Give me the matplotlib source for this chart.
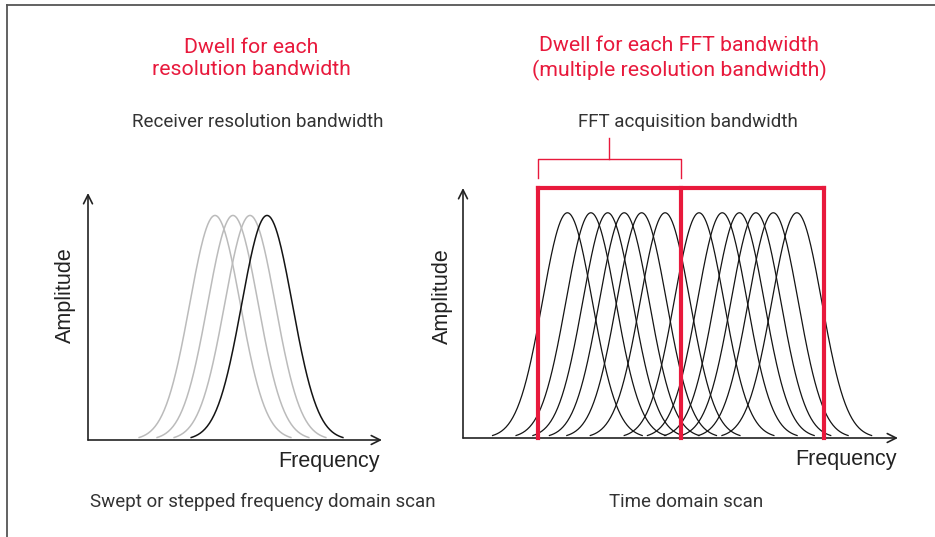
import numpy as np
import matplotlib.pyplot as plt
from matplotlib.lines import Line2D

W, H = 935, 537

# left panel: swept receiver, RBW filter stepped across the band
swept_centers = [4.32, 4.93, 5.51, 6.09]
swept_colors = ['#bbbbbb', '#bbbbbb', '#bbbbbb', '#141414']
# right panel: many RBW bins inside each FFT acquisition bandwidth
fft_centers = [3.60, 4.41, 4.99, 5.56, 6.16, 6.97, 8.14, 8.94, 9.53, 10.10, 10.70, 11.51]
fft_edges = [2.58, 7.51, 12.45]
bracket_x = [2.58, 7.51]
rbw_sigma = 0.86

RED = '#e8193c'
TXT = '#333333'
title_font = ['Roboto', 'DejaVu Sans']
label_font = ['Liberation Sans', 'DejaVu Sans']


def fx(px):
    return px / W


def fy(py):
    return 1 - py / H


def bump(c):
    x = np.linspace(c - 3 * rbw_sigma, c + 3 * rbw_sigma, 200)
    return x, np.exp(-0.5 * ((x - c) / rbw_sigma) ** 2)


def arrows(ax):
    ax.set_axis_off()
    ap = dict(arrowstyle='->', color='#222222', lw=1.2, mutation_scale=16,
              shrinkA=0, shrinkB=0)
    ax.annotate('', xy=(0, 1), xytext=(0, 0), xycoords='axes fraction',
                arrowprops=ap, annotation_clip=False)
    ax.annotate('', xy=(1, 0), xytext=(0, 0), xycoords='axes fraction',
                arrowprops=ap, annotation_clip=False)


fig = plt.figure(figsize=(W / 100, H / 100), dpi=100)

# frame (only top and left visible in the crop)
fig.add_artist(Line2D([fx(7), fx(7)], [fy(5), 0], color='#555555', lw=1.3))
fig.add_artist(Line2D([fx(7), 1], [fy(5), fy(5)], color='#555555', lw=1.3))

# left panel
ax1 = fig.add_axes([fx(88), fy(440), (382 - 88) / W, (440 - 193) / H])
ax1.set_xlim(0, 10)
ax1.set_ylim(0, 1.1)
for c, col in zip(swept_centers, swept_colors):
    x, y = bump(c)
    ax1.plot(x, y, color=col, lw=1.1)
arrows(ax1)

# right panel
ax2 = fig.add_axes([fx(463), fy(438), (898 - 463) / W, (438 - 188) / H])
ax2.set_xlim(0, 15)
ax2.set_ylim(0, 1.11)
for c in fft_centers:
    x, y = bump(c)
    ax2.plot(x, y, color='#141414', lw=0.9)
ax2.plot([fft_edges[0], fft_edges[-1]], [1.11, 1.11], color=RED, lw=3,
         solid_capstyle='projecting', clip_on=False, zorder=5)
for e in fft_edges:
    ax2.plot([e, e], [0, 1.11], color=RED, lw=3, clip_on=False, zorder=5)
# bracket over the first FFT span
ax2.plot([bracket_x[0], bracket_x[0], bracket_x[1], bracket_x[1]],
         [1.154, 1.238, 1.238, 1.154], color=RED, lw=1, clip_on=False)
mid = (bracket_x[0] + bracket_x[1]) / 2
ax2.plot([mid, mid], [1.238, 1.33], color=RED, lw=1, clip_on=False)
arrows(ax2)

# texts
fig.text(fx(251), fy(58.5), 'Dwell for each\nresolution bandwidth', color=RED,
         fontsize=15.3, family=title_font, ha='center',
         va='center', linespacing=1.25)
fig.text(fx(679), fy(58.5), 'Dwell for each FFT bandwidth\n(multiple resolution bandwidth)',
         color=RED, fontsize=15.3, family=title_font,
         ha='center', va='center', linespacing=1.25)
fig.text(fx(258), fy(122), 'Receiver resolution bandwidth', color=TXT,
         fontsize=13.5, family=title_font, ha='center', va='center')
fig.text(fx(688), fy(122), 'FFT acquisition bandwidth', color=TXT,
         fontsize=13.5, family=title_font, ha='center', va='center')
fig.text(fx(263), fy(502), 'Swept or stepped frequency domain scan', color=TXT,
         fontsize=13.5, family=title_font, ha='center', va='center')
fig.text(fx(686), fy(502), 'Time domain scan', color=TXT,
         fontsize=13.5, family=title_font, ha='center', va='center')

fig.text(fx(65), fy(295), 'Amplitude', color='#222222', fontsize=15.5,
         family=label_font, rotation=90, ha='center', va='center')
fig.text(fx(442), fy(296), 'Amplitude', color='#222222', fontsize=15.5,
         family=label_font, rotation=90, ha='center', va='center')
fig.text(fx(329), fy(462), 'Frequency', color='#222222', fontsize=15.5,
         family=label_font, ha='center', va='center')
fig.text(fx(846), fy(459), 'Frequency', color='#222222', fontsize=15.5,
         family=label_font, ha='center', va='center')

fig.savefig('out.png', dpi=100)
